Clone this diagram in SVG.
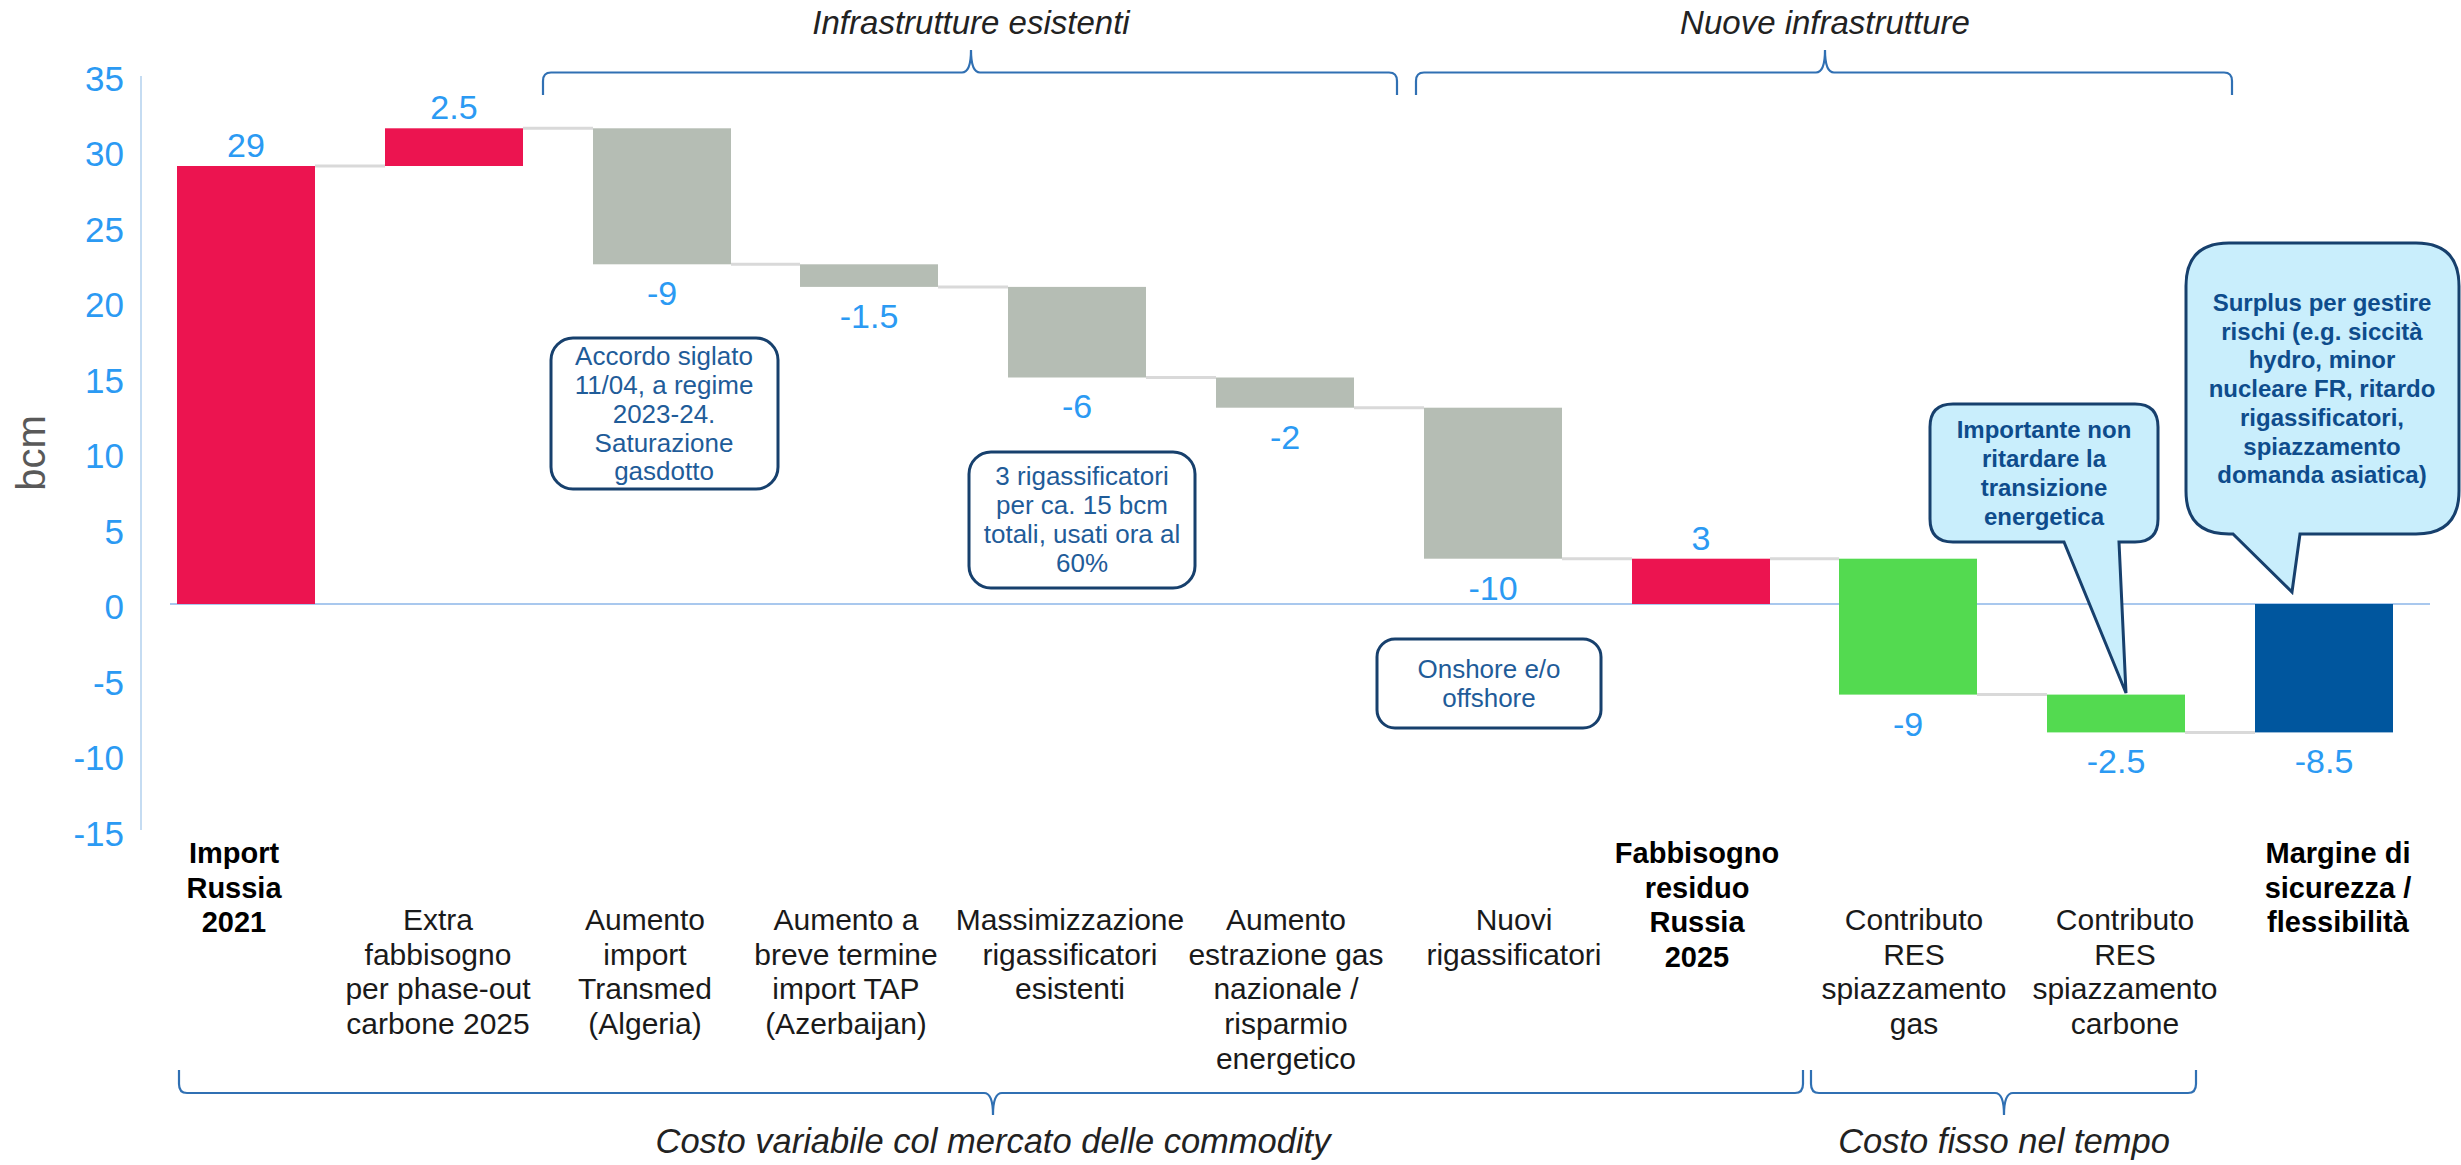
<svg xmlns="http://www.w3.org/2000/svg" width="2461" height="1165" viewBox="0 0 2461 1165">
<style>
.ax{font-family:"Liberation Sans",Arial,sans-serif;font-size:35px;fill:#2B9AF3;text-anchor:end}
.val{font-family:"Liberation Sans",Arial,sans-serif;font-size:34px;fill:#2B9AF3;text-anchor:middle}
.cat{font-family:"Liberation Sans",Arial,sans-serif;font-size:30px;fill:#1a1a1a;text-anchor:middle}
.catb{font-family:"Liberation Sans",Arial,sans-serif;font-size:29px;font-weight:bold;fill:#000;text-anchor:middle}
.brl{font-family:"Liberation Sans",Arial,sans-serif;font-size:33px;font-style:italic;fill:#222;text-anchor:middle}
.brl2{font-family:"Liberation Sans",Arial,sans-serif;font-size:34.5px;font-style:italic;fill:#222;text-anchor:middle}
.note{font-family:"Liberation Sans",Arial,sans-serif;font-size:26px;fill:#1F5C99;text-anchor:middle}
.noteb{font-family:"Liberation Sans",Arial,sans-serif;font-size:24px;font-weight:bold;fill:#0E4C8C;text-anchor:middle}
.box{fill:#fff;stroke:#17406D;stroke-width:3}
.call{fill:#C9EEFC;stroke:#17406D;stroke-width:3;stroke-linejoin:miter}
.red{fill:#EC1450}
.gray{fill:#B5BDB4}
.green{fill:#53DA50}
.navy{fill:#00569E}
.conn{stroke:#D9D9D9;stroke-width:3;fill:none}
.brace{stroke:#3070B3;stroke-width:2.2;fill:none}
</style>

<g id="axis">
<line x1="141" y1="76" x2="141" y2="830" stroke="#C5DCF2" stroke-width="2"/>
<line x1="170" y1="604" x2="2430" y2="604" stroke="#A9C8EE" stroke-width="2"/>
<text class="ax" x="124" y="91">35</text>
<text class="ax" x="124" y="166">30</text>
<text class="ax" x="124" y="242">25</text>
<text class="ax" x="124" y="317">20</text>
<text class="ax" x="124" y="393">15</text>
<text class="ax" x="124" y="468">10</text>
<text class="ax" x="124" y="544">5</text>
<text class="ax" x="124" y="619">0</text>
<text class="ax" x="124" y="695">-5</text>
<text class="ax" x="124" y="770">-10</text>
<text class="ax" x="124" y="846">-15</text>
<text x="45" y="453" transform="rotate(-90 45 453)" font-family="Liberation Sans, Arial, sans-serif" font-size="40" fill="#595959" text-anchor="middle">bcm</text>
</g>

<g id="connectors">
<line class="conn" x1="315" y1="166" x2="385" y2="166"/>
<line class="conn" x1="523" y1="128.3" x2="593" y2="128.3"/>
<line class="conn" x1="731" y1="264.3" x2="800" y2="264.3"/>
<line class="conn" x1="938" y1="286.9" x2="1008" y2="286.9"/>
<line class="conn" x1="1146" y1="377.5" x2="1216" y2="377.5"/>
<line class="conn" x1="1354" y1="407.7" x2="1424" y2="407.7"/>
<line class="conn" x1="1562" y1="558.7" x2="1632" y2="558.7"/>
<line class="conn" x1="1770" y1="558.7" x2="1839" y2="558.7"/>
<line class="conn" x1="1977" y1="694.6" x2="2047" y2="694.6"/>
<line class="conn" x1="2185" y1="732.4" x2="2255" y2="732.4"/>
</g>

<g id="bar-import-russia-2021">
<rect class="red" x="177" y="166" width="138" height="438"/>
<text class="val" x="246" y="157">29</text>
<text class="catb" x="234" y="863">Import</text>
<text class="catb" x="234" y="897.7">Russia</text>
<text class="catb" x="234" y="932.4">2021</text>
</g>

<g id="bar-extra-fabbisogno">
<rect class="red" x="385" y="128.3" width="138" height="37.7"/>
<text class="val" x="454" y="119">2.5</text>
<text class="cat" x="438" y="930">Extra</text>
<text class="cat" x="438" y="964.7">fabbisogno</text>
<text class="cat" x="438" y="999.4">per phase-out</text>
<text class="cat" x="438" y="1034.1">carbone 2025</text>
</g>

<g id="bar-transmed">
<rect class="gray" x="593" y="128.3" width="138" height="136"/>
<text class="val" x="662" y="305">-9</text>
<text class="cat" x="645" y="930">Aumento</text>
<text class="cat" x="645" y="964.7">import</text>
<text class="cat" x="645" y="999.4">Transmed</text>
<text class="cat" x="645" y="1034.1">(Algeria)</text>
</g>

<g id="bar-tap">
<rect class="gray" x="800" y="264.3" width="138" height="22.6"/>
<text class="val" x="869" y="328">-1.5</text>
<text class="cat" x="846" y="930">Aumento a</text>
<text class="cat" x="846" y="964.7">breve termine</text>
<text class="cat" x="846" y="999.4">import TAP</text>
<text class="cat" x="846" y="1034.1">(Azerbaijan)</text>
</g>

<g id="bar-rigassificatori-esistenti">
<rect class="gray" x="1008" y="286.9" width="138" height="90.6"/>
<text class="val" x="1077" y="418">-6</text>
<text class="cat" x="1070" y="930">Massimizzazione</text>
<text class="cat" x="1070" y="964.7">rigassificatori</text>
<text class="cat" x="1070" y="999.4">esistenti</text>
</g>

<g id="bar-estrazione-nazionale">
<rect class="gray" x="1216" y="377.5" width="138" height="30.2"/>
<text class="val" x="1285" y="449">-2</text>
<text class="cat" x="1286" y="930">Aumento</text>
<text class="cat" x="1286" y="964.7">estrazione gas</text>
<text class="cat" x="1286" y="999.4">nazionale /</text>
<text class="cat" x="1286" y="1034.1">risparmio</text>
<text class="cat" x="1286" y="1068.8">energetico</text>
</g>

<g id="bar-nuovi-rigassificatori">
<rect class="gray" x="1424" y="407.7" width="138" height="151"/>
<text class="val" x="1493" y="600">-10</text>
<text class="cat" x="1514" y="930">Nuovi</text>
<text class="cat" x="1514" y="964.7">rigassificatori</text>
</g>

<g id="bar-fabbisogno-residuo-2025">
<rect class="red" x="1632" y="558.7" width="138" height="45.3"/>
<text class="val" x="1701" y="550">3</text>
<text class="catb" x="1697" y="863">Fabbisogno</text>
<text class="catb" x="1697" y="897.7">residuo</text>
<text class="catb" x="1697" y="932.4">Russia</text>
<text class="catb" x="1697" y="967.1">2025</text>
</g>

<g id="bar-res-gas">
<rect class="green" x="1839" y="558.7" width="138" height="135.9"/>
<text class="val" x="1908" y="736">-9</text>
<text class="cat" x="1914" y="930">Contributo</text>
<text class="cat" x="1914" y="964.7">RES</text>
<text class="cat" x="1914" y="999.4">spiazzamento</text>
<text class="cat" x="1914" y="1034.1">gas</text>
</g>

<g id="bar-res-carbone">
<rect class="green" x="2047" y="694.6" width="138" height="37.8"/>
<text class="val" x="2116" y="773">-2.5</text>
<text class="cat" x="2125" y="930">Contributo</text>
<text class="cat" x="2125" y="964.7">RES</text>
<text class="cat" x="2125" y="999.4">spiazzamento</text>
<text class="cat" x="2125" y="1034.1">carbone</text>
</g>

<g id="bar-margine">
<rect class="navy" x="2255" y="604" width="138" height="128.4"/>
<text class="val" x="2324" y="773">-8.5</text>
<text class="catb" x="2338" y="863">Margine di</text>
<text class="catb" x="2338" y="897.7">sicurezza /</text>
<text class="catb" x="2338" y="932.4">flessibilità</text>
</g>

<g id="brace-infrastrutture-esistenti">
<path class="brace" d="M543 95 V81 Q543 72.5 551 72.5 H962 Q971 72.5 971 50 Q971 72.5 980 72.5 H1389 Q1397 72.5 1397 81 V95"/>
<text class="brl" x="971" y="34">Infrastrutture esistenti</text>
</g>

<g id="brace-nuove-infrastrutture">
<path class="brace" d="M1416 95 V81 Q1416 72.5 1424 72.5 H1816 Q1825 72.5 1825 50 Q1825 72.5 1834 72.5 H2224 Q2232 72.5 2232 81 V95"/>
<text class="brl" x="1825" y="34">Nuove infrastrutture</text>
</g>

<g id="brace-costo-variabile">
<path class="brace" d="M179 1070 V1084 Q179 1093 187 1093 H984 Q993 1093 993 1115 Q993 1093 1002 1093 H1795 Q1803 1093 1803 1084 V1070"/>
<text class="brl2" x="993" y="1153">Costo variabile col mercato delle commodity</text>
</g>

<g id="brace-costo-fisso">
<path class="brace" d="M1811 1070 V1084 Q1811 1093 1819 1093 H1995 Q2004 1093 2004 1115 Q2004 1093 2013 1093 H2188 Q2196 1093 2196 1084 V1070"/>
<text class="brl2" x="2004" y="1153">Costo fisso nel tempo</text>
</g>

<g id="note-accordo">
<rect class="box" x="551" y="338" width="227" height="151" rx="22" ry="22"/>
<text class="note" x="664" y="365">Accordo siglato</text>
<text class="note" x="664" y="394">11/04, a regime</text>
<text class="note" x="664" y="423">2023-24.</text>
<text class="note" x="664" y="452">Saturazione</text>
<text class="note" x="664" y="480">gasdotto</text>
</g>

<g id="note-rigassificatori">
<rect class="box" x="969" y="452" width="226" height="136" rx="22" ry="22"/>
<text class="note" x="1082" y="485">3 rigassificatori</text>
<text class="note" x="1082" y="514">per ca. 15 bcm</text>
<text class="note" x="1082" y="543">totali, usati ora al</text>
<text class="note" x="1082" y="572">60%</text>
</g>

<g id="note-onshore">
<rect class="box" x="1377" y="639" width="224" height="89" rx="18" ry="18"/>
<text class="note" x="1489" y="678">Onshore e/o</text>
<text class="note" x="1489" y="707">offshore</text>
</g>

<g id="callout-transizione">
<path class="call" d="M1953 404 H2135 Q2158 404 2158 427 V519 Q2158 542 2135 542 H2119 L2126 693 L2064 542 H1953 Q1930 542 1930 519 V427 Q1930 404 1953 404 Z"/>
<text class="noteb" x="2044" y="438">Importante non</text>
<text class="noteb" x="2044" y="467">ritardare la</text>
<text class="noteb" x="2044" y="496">transizione</text>
<text class="noteb" x="2044" y="525">energetica</text>
</g>

<g id="callout-surplus">
<path class="call" d="M2229 243 H2416 Q2459 243 2459 286 V491 Q2459 534 2416 534 H2300 L2292 592 L2233 534 H2229 Q2186 534 2186 491 V286 Q2186 243 2229 243 Z"/>
<text class="noteb" x="2322" y="311">Surplus per gestire</text>
<text class="noteb" x="2322" y="339.7">rischi (e.g. siccità</text>
<text class="noteb" x="2322" y="368.4">hydro, minor</text>
<text class="noteb" x="2322" y="397.1">nucleare FR, ritardo</text>
<text class="noteb" x="2322" y="425.8">rigassificatori,</text>
<text class="noteb" x="2322" y="454.5">spiazzamento</text>
<text class="noteb" x="2322" y="483.2">domanda asiatica)</text>
</g>
</svg>
